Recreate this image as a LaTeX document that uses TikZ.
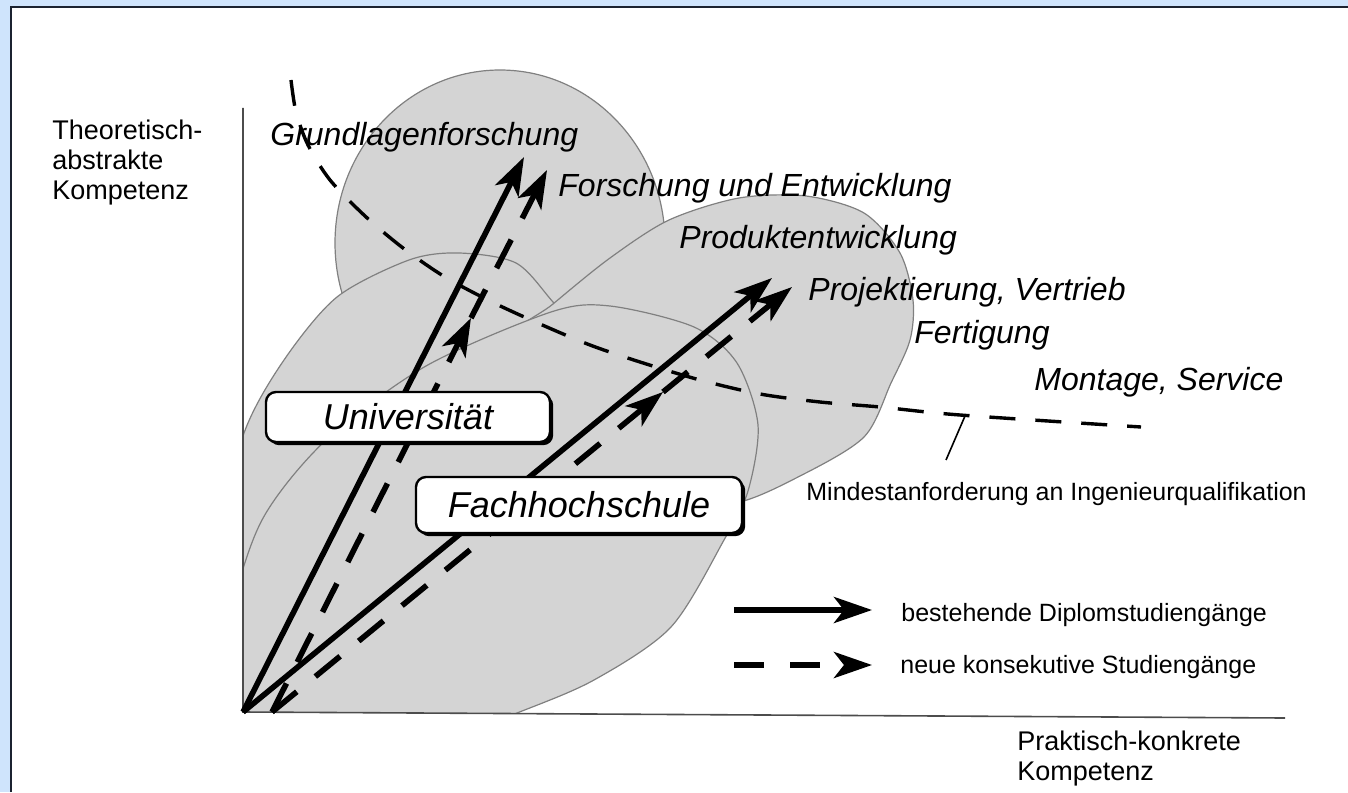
\documentclass[tikz,border=0pt]{standalone}
\usepackage{fontspec}
\setmainfont{Liberation Sans}
\usetikzlibrary{arrows.meta,shadows}
\definecolor{framebg}{HTML}{CFE4FC}
\definecolor{frameline}{HTML}{1B2230}

\begin{document}
\begin{tikzpicture}[x=0.5pt,y=-0.5pt,
  area/.style={fill=black!17,draw=black!50,line width=0.6pt},
  tip/.style={-{Stealth[length=19pt,width=13pt,inset=5pt]}},
  old/.style={tip,line width=2.8pt},
  new/.style={tip,line width=2.8pt,dash pattern=on 16pt off 12pt},
  field/.style={font=\fontsize{16}{19}\selectfont\itshape,inner sep=0pt,anchor=base west},
  school/.style={draw,line width=1.2pt,fill=white,rounded corners=5pt,
    font=\fontsize{18}{21}\selectfont\itshape,
    drop shadow={shadow xshift=1.6pt,shadow yshift=-1.6pt,fill=black,opacity=1}},
  axistext/.style={font=\fontsize{13.5}{15}\selectfont,align=left,inner sep=0pt,anchor=north west},
  note/.style={font=\fontsize{12.5}{15}\selectfont,inner sep=0pt,anchor=base west}]
\useasboundingbox (0,0) rectangle (1348,792);
% frame
\fill[framebg] (0,0) rectangle (1348,6);
\fill[framebg] (0,0) rectangle (10,792);
\draw[frameline,line width=1.2pt] (11,792) -- (11,7) -- (1348,7);

% fields of competence
\begin{scope}
\clip (243,0) rectangle (1348,712);
\filldraw[area] (500,243) ellipse [x radius=82.5pt,y radius=86.5pt];
\filldraw[area] plot[smooth cycle] coordinates {(244,433) (284,360) (337,297) (409,260)
  (459,253) (516,263) (553,302) (590,345) (600,420) (560,560) (450,700) (300,760)
  (225,700) (215,550)};
\filldraw[area] plot[smooth cycle] coordinates {(500,350) (553,304) (610,258) (669,220)
  (739,198) (806,196) (864,213) (900,253) (913,300) (910,340) (891,383) (864,437)
  (800,476) (735,503) (660,500) (570,420)};
\filldraw[area] plot[smooth cycle] coordinates {(426,366) (551,312) (610,306) (694,327)
  (737,363) (758,425) (748,491) (724,540) (671,627) (594,680) (517,713) (430,745)
  (300,760) (225,720) (230,620) (262,520) (326,440)};
\end{scope}

% axes
\coordinate (O) at (243,712);
\coordinate (Os) at (272,712);
\draw[black!70,line width=0.8pt] (243,108) -- (O) -- (1285,718);
\node[axistext] (ylab) at (52,120) {Theoretisch-\\abstrakte\\Kompetenz};
\node[axistext] (xlab) at (1017,731) {Praktisch-konkrete\\Kompetenz};

% minimum requirement
\draw[line width=1.7pt,dash pattern=on 13pt off 10pt] plot[smooth] coordinates {(291,80)
  (296,112) (308,145) (330,180) (365,216) (403,248) (445,277) (492,302) (540,324)
  (590,345) (640,362) (700,380) (760,394) (820,402) (880,407) (960,415) (1141,427)};
\coordinate (p1) at (965,416);
\coordinate (p2) at (946,460);
\draw[line width=0.8pt] (p1) -- (p2);
\node[note] (mind) at (806,500) {Mindestanforderung an Ingenieurqualifikation};

% study programmes
\coordinate (ut) at (524,157);
\coordinate (un) at (547,170);
\coordinate (um) at (471,318);
\coordinate (ft) at (772,278);
\coordinate (fn) at (792,287);
\coordinate (fm) at (663,392);
\draw[old] (O) -- (ut);
\draw[old] (O) -- (ft);
\draw[new] (Os) -- (um);
\draw[new] (um) -- (un);
\draw[new] (Os) -- (fm);
\draw[new] (fm) -- (fn);

\node[school,minimum width=142pt,minimum height=25pt] (uni) at (408,417) {Universität};
\node[school,minimum width=163pt,minimum height=28pt] (fh) at (579,505) {Fachhochschule};

\node[field] (grund) at (270,146) {Grundlagenforschung};
\node[field] (fue) at (558,196) {Forschung und Entwicklung};
\node[field] (prod) at (679,248) {Produktentwicklung};
\node[field] (proj) at (808,300) {Projektierung, Vertrieb};
\node[field] (fert) at (914,343) {Fertigung};
\node[field] (mont) at (1034,390) {Montage, Service};

% legend
\coordinate (l1a) at (734,610);
\coordinate (l1b) at (872,610);
\coordinate (l2a) at (734,665);
\coordinate (l2b) at (872,665);
\draw[old] (l1a) -- (l1b);
\draw[new,dash pattern=on 15pt off 13pt] (l2a) -- (l2b);
\node[note] (leg1) at (901,621) {bestehende Diplomstudiengänge};
\node[note] (leg2) at (900,673) {neue konsekutive Studiengänge};
\end{tikzpicture}
\end{document}
